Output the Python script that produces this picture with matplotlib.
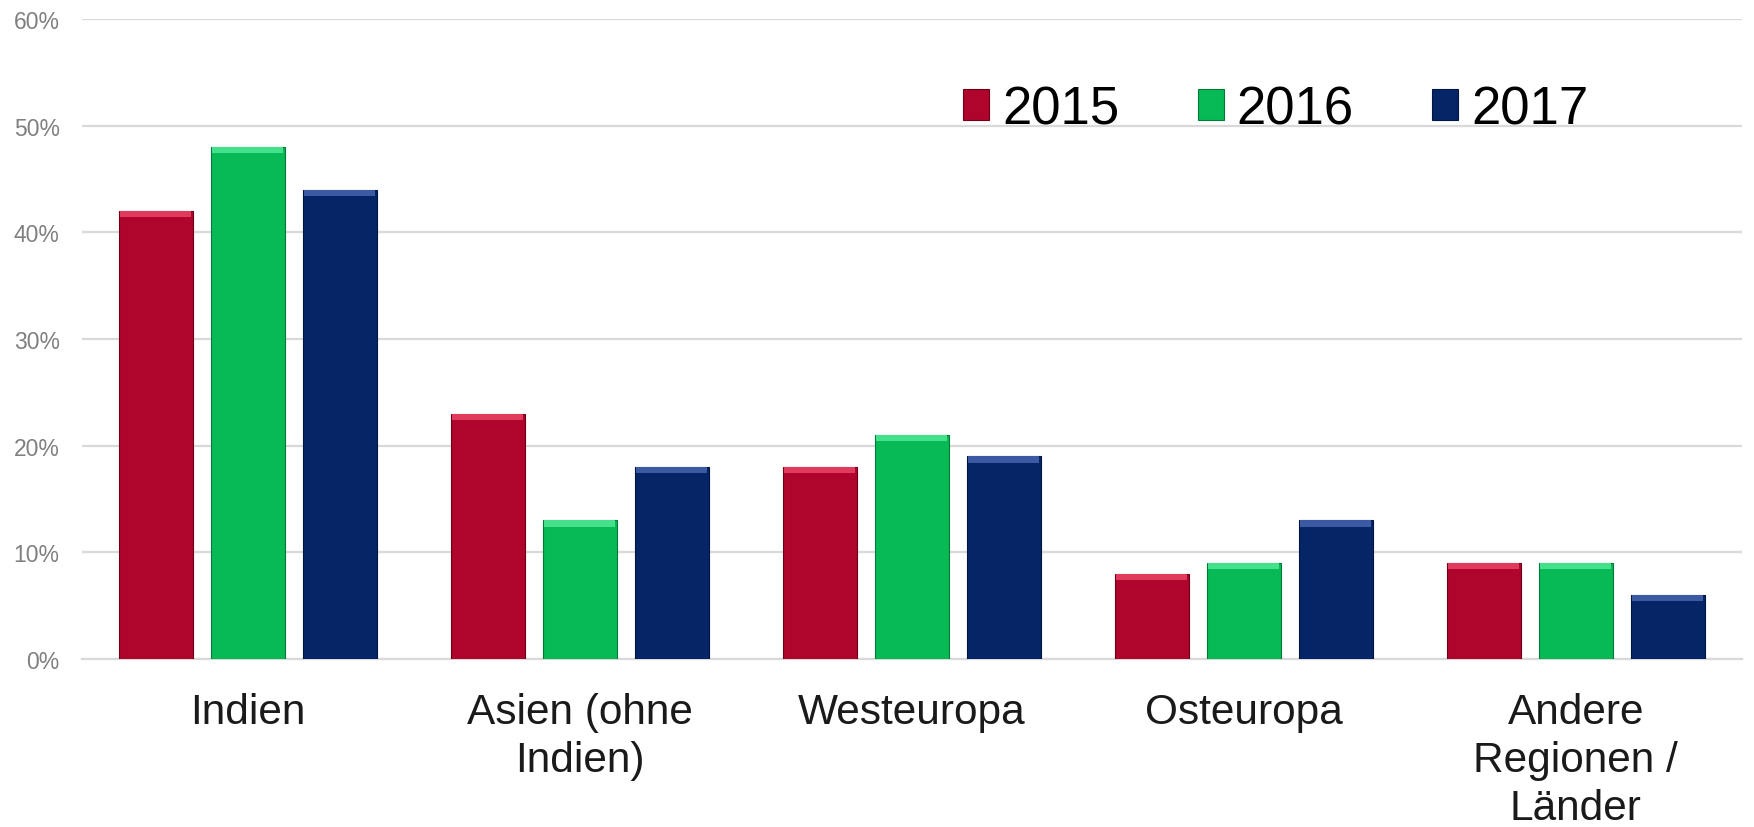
import numpy as np
import matplotlib.pyplot as plt
from matplotlib.patches import Rectangle

plt.rcParams['font.family'] = ['Liberation Sans', 'DejaVu Sans']

kategorien = ["Indien", "Asien (ohne\nIndien)", "Westeuropa", "Osteuropa", "Andere\nRegionen /\nLänder"]
jahre = ["2015", "2016", "2017"]
werte_2015 = [42, 23, 18, 8, 9]
werte_2016 = [48, 13, 21, 9, 9]
werte_2017 = [44, 18, 19, 13, 6]
y_ticks = [0, 10, 20, 30, 40, 50, 60]

farben = ["#AF052C", "#07BA55", "#062566"]
hell = ["#E03A5C", "#45E08C", "#3B5AA3"]
dunkel = ["#6E0019", "#047A37", "#021440"]

fig = plt.figure(figsize=(17.54, 8.28), dpi=100)
ax = fig.add_axes([0.0467, 0.203, 0.9463, 0.773])

x = np.arange(len(kategorien))
breite = 0.223
abstand = 0.277
serien = [werte_2015, werte_2016, werte_2017]

for i, werte in enumerate(serien):
    pos = x + (i - 1) * abstand
    werte = np.array(werte, dtype=float)
    ax.bar(pos, werte, width=breite, color=farben[i], edgecolor=dunkel[i],
           linewidth=0.8, zorder=3)
    # heller Streifen oben (Bevel-Effekt)
    ax.bar(pos, 0.6, bottom=werte - 0.6, width=breite * 0.96, color=hell[i],
           linewidth=0, zorder=4)

ax.set_xlim(-0.5, len(kategorien) - 0.5)
ax.set_ylim(0, 60)
ax.set_yticks(y_ticks)
ax.set_yticklabels([f"{v}%" for v in y_ticks])
ax.set_xticks(x)
ax.set_xticklabels(kategorien, fontsize=30.5, color="#1A1A1A", linespacing=1.25)
ax.tick_params(axis="x", length=0, pad=24)
ax.tick_params(axis="y", length=0, pad=16, labelsize=16.5, labelcolor="#808080")

ax.grid(axis="y", color="#D9D9D9", linewidth=1.6, zorder=0)
for s in ["top", "right", "left"]:
    ax.spines[s].set_visible(False)
ax.spines["bottom"].set_color("#D9D9D9")
ax.spines["bottom"].set_linewidth(1.6)

handles = [Rectangle((0, 0), 1, 1, facecolor=farben[i], edgecolor=dunkel[i], linewidth=0.8)
           for i in range(3)]
ax.legend(handles, jahre, loc="center left", bbox_to_anchor=(0.531, 0.859),
          ncol=3, frameon=False, fontsize=38, handlelength=0.49, handleheight=0.55,
          handletextpad=0.25, columnspacing=1.48, borderpad=0, borderaxespad=0)

fig.savefig("out.png", dpi=100)
